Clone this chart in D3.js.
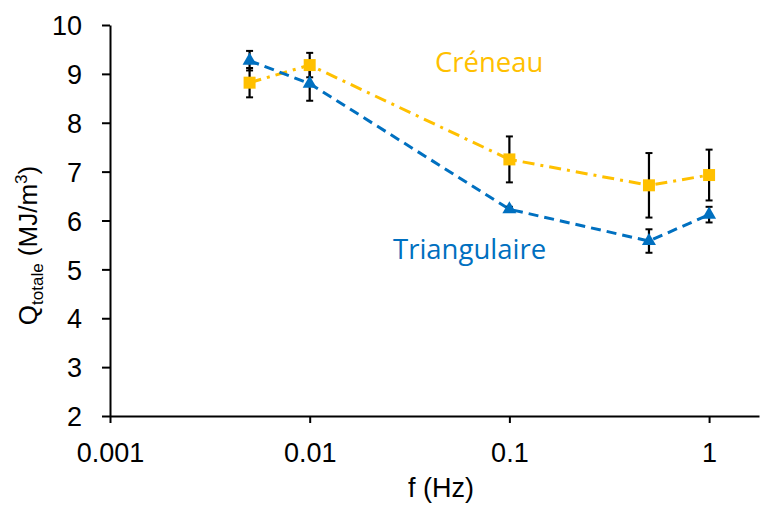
<!DOCTYPE html>
<html>
<head>
<meta charset="utf-8">
<script src="https://cdn.jsdelivr.net/npm/d3@7"></script>
<style>
  body { margin: 0; background: #fff; }
  .axis text { font-family: "Liberation Sans", Arial, sans-serif; font-size: 27px; fill: #000; }
  .axis path, .axis line { stroke: #000; stroke-width: 2; }
</style>
</head>
<body>
<div class="chart"></div>
<script>
var freqs = [0.005, 0.01, 0.1, 0.5, 1];
var triangulaire = [9.27, 8.80, 6.23, 5.58, 6.12];
var triangErr = [0.20, 0.35, 0.05, 0.24, 0.16];
var creneau = [8.82, 9.18, 7.25, 6.72, 6.93];
var creneauErr = [0.30, 0.25, 0.47, 0.66, 0.52];
var xTicks = [0.001, 0.01, 0.1, 1];
var xTickLabels = ["0.001", "0.01", "0.1", "1"];
var yTicks = [2, 3, 4, 5, 6, 7, 8, 9, 10];

var margin = {top: 25, right: 2, bottom: 91, left: 110},
    width = 761 - margin.left - margin.right,
    height = 507 - margin.top - margin.bottom;

var svg = d3.select(".chart")
    .append("svg")
    .attr("width", 761)
    .attr("height", 507)
  .append("g")
    .attr("transform", "translate(" + margin.left + "," + margin.top + ")");

var x = d3.scaleLog()
    .domain([0.001, Math.pow(10, 650 / 200 - 3)])
    .range([0, width]);

var y = d3.scaleLinear()
    .domain([2, 10])
    .range([height, 0]);

// axes
svg.append("g")
    .attr("class", "axis")
    .attr("transform", "translate(0," + height + ")")
    .call(d3.axisBottom(x).tickValues(xTicks).tickSize(7).tickSizeOuter(0)
        .tickFormat(function(d, i) { return xTickLabels[i]; }))
    .call(function(g) { g.selectAll("text").attr("y", 46).attr("dy", null); });

svg.append("g")
    .attr("class", "axis")
    .call(d3.axisLeft(y).tickValues(yTicks).tickSize(8).tickSizeOuter(0))
    .call(function(g) { g.selectAll("text").attr("x", -28).attr("dy", "0.36em"); });

// axis titles
svg.append("text")
    .attr("x", 331)
    .attr("y", height + 81)
    .attr("text-anchor", "middle")
    .attr("font-family", "Liberation Sans, Arial, sans-serif")
    .attr("font-size", 27)
    .text("f (Hz)");

var ylab = svg.append("text")
    .attr("transform", "translate(" + (-73) + "," + (height / 2 + 25) + ") rotate(-90)")
    .attr("text-anchor", "middle")
    .attr("font-family", "Liberation Sans, Arial, sans-serif")
    .attr("font-size", 26);
ylab.append("tspan").text("Q");
ylab.append("tspan").attr("font-size", 17).attr("dy", 6).text("totale");
ylab.append("tspan").attr("dy", -6).text(" (MJ/m");
ylab.append("tspan").attr("font-size", 17).attr("dy", -10).text("3");
ylab.append("tspan").attr("dy", 10).text(")");

var series = [
  {name: "Créneau", vals: creneau, err: creneauErr, color: "#FFC000", dash: "12,6,3,6", shape: d3.symbolSquare},
  {name: "Triangulaire", vals: triangulaire, err: triangErr, color: "#0070C0", dash: "10,6", shape: d3.symbolTriangle}
];

var line = d3.line()
    .x(function(d) { return x(d[0]); })
    .y(function(d) { return y(d[1]); });

series.forEach(function(s) {
  var pts = freqs.map(function(f, i) { return [f, s.vals[i], s.err[i]]; });

  svg.append("path")
      .datum(pts)
      .attr("fill", "none")
      .attr("stroke", s.color)
      .attr("stroke-width", 3)
      .attr("stroke-dasharray", s.dash)
      .attr("d", line);

  var eb = svg.append("g").selectAll("g")
      .data(pts)
      .enter().append("g");
  eb.append("line")
      .attr("x1", function(d) { return x(d[0]); })
      .attr("x2", function(d) { return x(d[0]); })
      .attr("y1", function(d) { return y(d[1] - d[2]); })
      .attr("y2", function(d) { return y(d[1] + d[2]); })
      .attr("stroke", "#000")
      .attr("stroke-width", 2.2);
  [-1, 1].forEach(function(sg) {
    eb.append("line")
        .attr("x1", function(d) { return x(d[0]) - 3.5; })
        .attr("x2", function(d) { return x(d[0]) + 3.5; })
        .attr("y1", function(d) { return y(d[1] + sg * d[2]); })
        .attr("y2", function(d) { return y(d[1] + sg * d[2]); })
        .attr("stroke", "#000")
        .attr("stroke-width", 2);
  });
});

series.forEach(function(s) {
  svg.append("g").selectAll("path")
      .data(freqs.map(function(f, i) { return [f, s.vals[i]]; }))
      .enter().append("path")
      .attr("transform", function(d) { return "translate(" + x(d[0]) + "," + y(d[1]) + ")"; })
      .attr("d", d3.symbol().type(s.shape).size(s.shape === d3.symbolSquare ? 144 : 85))
      .attr("fill", s.color);
});

// series labels
svg.append("text")
    .attr("x", 325)
    .attr("y", 47)
    .attr("font-family", "Open Sans, sans-serif")
    .attr("font-size", 27.5)
    .attr("fill", "#FFC000")
    .text("Créneau");

svg.append("text")
    .attr("x", 283)
    .attr("y", 234)
    .attr("font-family", "Open Sans, sans-serif")
    .attr("font-size", 27.5)
    .attr("fill", "#0070C0")
    .text("Triangulaire");
</script>
</body>
</html>
